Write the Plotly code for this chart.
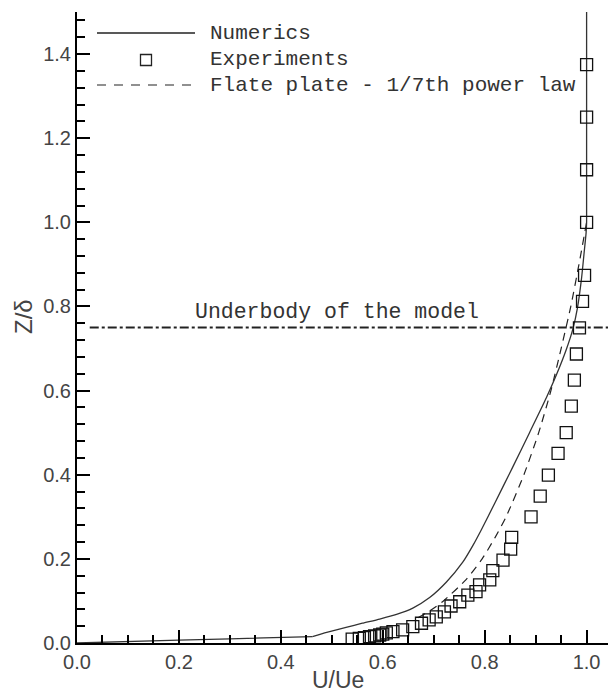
import plotly.graph_objects as go

# ---------------- data ----------------
num_u = [0.0, 0.05, 0.1, 0.2, 0.3, 0.4, 0.462, 0.49, 0.528, 0.56, 0.594, 0.627, 0.659, 0.692,
         0.725, 0.757, 0.777, 0.793, 0.82, 0.855, 0.888, 0.921, 0.941, 0.96, 0.973, 0.982,
         0.99, 0.995, 0.999, 1.0, 1.0]
num_z = [0.0, 0.002, 0.004, 0.007, 0.010, 0.013, 0.015, 0.025, 0.037, 0.047, 0.057, 0.068, 0.083, 0.108,
         0.145, 0.192, 0.232, 0.268, 0.333, 0.418, 0.500, 0.583, 0.638, 0.697, 0.746, 0.796,
         0.866, 0.926, 0.975, 1.0, 1.5]

exp_u = [0.540, 0.554, 0.564, 0.574, 0.584, 0.594, 0.600, 0.607, 0.620, 0.639, 0.659, 0.676,
         0.691, 0.705, 0.721, 0.734, 0.751, 0.767, 0.783, 0.790, 0.810, 0.816, 0.836, 0.851,
         0.853, 0.891, 0.909, 0.925, 0.944, 0.960, 0.970, 0.976, 0.980, 0.986, 0.992, 0.996,
         1.0, 1.0, 1.0, 1.0]
exp_z = [0.009, 0.011, 0.013, 0.015, 0.017, 0.019, 0.021, 0.024, 0.027, 0.031, 0.039, 0.047,
         0.055, 0.062, 0.074, 0.088, 0.098, 0.114, 0.122, 0.138, 0.150, 0.172, 0.197, 0.223,
         0.251, 0.300, 0.349, 0.399, 0.451, 0.500, 0.563, 0.625, 0.687, 0.749, 0.812, 0.874,
         1.0, 1.125, 1.25, 1.375]

pl_u = [0.669, 0.697, 0.719, 0.763, 0.795, 0.820, 0.842, 0.877, 0.906, 0.930, 0.950, 0.969, 0.985, 1.0]
pl_z = [0.06, 0.08, 0.1, 0.15, 0.2, 0.25, 0.3, 0.4, 0.5, 0.6, 0.7, 0.8, 0.9, 1.0]

ub_u = [0.025, 1.042]
ub_z = [0.75, 0.75]

legend_labels = ["Numerics", "Experiments", "Flate plate - 1/7th power law"]
underbody_label = "Underbody of the model"
x_ticks = [0.0, 0.2, 0.4, 0.6, 0.8, 1.0]
y_ticks = [0.0, 0.2, 0.4, 0.6, 0.8, 1.0, 1.2, 1.4]

# ---------------- layout geometry ----------------
W, H = 608, 696
L, R, T, B = 77, 0, 12, 53
PW, PH = W - L - R, H - T - B

def px_x(px):
    return (px - L) / PW

def px_y(py):
    return (H - B - py) / PH

MONO = "Liberation Mono, Courier New, monospace"
SANS = "Liberation Sans, Arial, sans-serif"
NARROW = "Liberation Sans Narrow, Arial Narrow, Liberation Sans, sans-serif"

fig = go.Figure()

fig.add_trace(go.Scatter(x=ub_u, y=ub_z, mode="lines",
                         line=dict(color="#222", width=2, dash="9px,3px,3px,3px"),
                         showlegend=False, hoverinfo="skip"))
fig.add_trace(go.Scatter(x=pl_u, y=pl_z, mode="lines", name=legend_labels[2],
                         line=dict(color="#222", width=1.2, dash="8px,6px", shape="spline",
                                   smoothing=0.6),
                         showlegend=False))
fig.add_trace(go.Scatter(x=num_u[:7], y=num_z[:7], mode="lines", name=legend_labels[0],
                         line=dict(color="#333", width=1.3), showlegend=False))
fig.add_trace(go.Scatter(x=num_u[6:], y=num_z[6:], mode="lines", name=legend_labels[0],
                         line=dict(color="#333", width=1.3, shape="spline", smoothing=0.6),
                         showlegend=False))
fig.add_trace(go.Scatter(x=exp_u, y=exp_z, mode="markers", name=legend_labels[1],
                         marker=dict(symbol="square-open", size=12, color="#111",
                                     line=dict(width=1.3, color="#111")),
                         showlegend=False))

# manual legend
shapes = [
    dict(type="line", xref="paper", yref="paper", x0=px_x(97), x1=px_x(195),
         y0=px_y(33), y1=px_y(33), line=dict(color="#222", width=1.3)),
    dict(type="rect", xref="paper", yref="paper", x0=px_x(140.5), x1=px_x(151.5),
         y0=px_y(54.5), y1=px_y(65.5), line=dict(color="#222", width=1.3)),
    dict(type="line", xref="paper", yref="paper", x0=px_x(97), x1=px_x(195),
         y0=px_y(85), y1=px_y(85), line=dict(color="#222", width=1.2, dash="9px,8px")),
]
annotations = []
for lab, py in zip(legend_labels, [33, 60, 85]):
    annotations.append(dict(text=lab, xref="paper", yref="paper", x=px_x(208), y=px_y(py),
                            xanchor="left", yanchor="middle", showarrow=False,
                            font=dict(family=MONO, size=21, color="#333")))
annotations.append(dict(text=underbody_label, x=0.51, y=0.787, xref="x", yref="y",
                        xanchor="center", yanchor="middle", showarrow=False,
                        font=dict(family=MONO, size=21.5, color="#333")))
annotations.append(dict(text="U/Ue", xref="paper", yref="paper", x=px_x(338), y=px_y(680),
                        xanchor="center", yanchor="middle", showarrow=False,
                        font=dict(family=NARROW, size=23, color="#444")))
annotations.append(dict(text="Z/δ", xref="paper", yref="paper", x=px_x(23), y=px_y(317),
                        xanchor="center", yanchor="middle", showarrow=False, textangle=-90,
                        font=dict(family=NARROW, size=24, color="#444")))

axis_common = dict(showline=True, linecolor="black", linewidth=2, ticks="inside",
                   ticklen=13, tickwidth=2, tickcolor="black", showgrid=False,
                   zeroline=False, automargin=False,
                   tickfont=dict(family=SANS, size=20, color="#444"))

fig.update_layout(
    width=W, height=H, margin=dict(l=L, r=R, t=T, b=B),
    paper_bgcolor="white", plot_bgcolor="white",
    shapes=shapes, annotations=annotations, showlegend=False,
    xaxis=dict(range=[0, 1.042], tickvals=x_ticks, ticktext=[f"{v:.1f}" for v in x_ticks],
               minor=dict(ticks="inside", ticklen=8, tickwidth=1.5, tickcolor="black", dtick=0.05),
               **axis_common),
    yaxis=dict(range=[0, 1.5], tickvals=y_ticks, ticktext=[f"{v:.1f}" for v in y_ticks],
               minor=dict(ticks="inside", ticklen=8, tickwidth=1.5, tickcolor="black", dtick=0.04),
               **axis_common),
)

fig.write_html("out.html")
